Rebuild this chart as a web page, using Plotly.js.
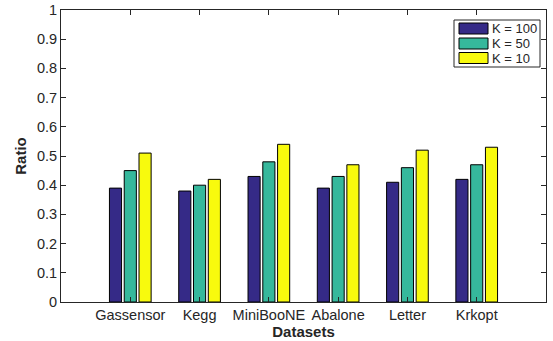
<!DOCTYPE html>
<html>
<head>
<meta charset="utf-8">
<script src="https://cdn.plot.ly/plotly-3.0.1.min.js"></script>
<style>html,body{margin:0;padding:0;background:#fff;}#chart{width:553px;height:341px;}</style>
</head>
<body>
<div id="chart"></div>
<script>
const categories = ["Gassensor", "Kegg", "MiniBooNE", "Abalone", "Letter", "Krkopt"];
const k100 = [0.39, 0.38, 0.43, 0.39, 0.41, 0.42];
const k50 = [0.45, 0.40, 0.48, 0.43, 0.46, 0.47];
const k10 = [0.51, 0.42, 0.54, 0.47, 0.52, 0.53];
const seriesNames = ["K = 100", "K = 50", "K = 10"];
const yTicks = [0, 0.1, 0.2, 0.3, 0.4, 0.5, 0.6, 0.7, 0.8, 0.9, 1];
const yTickText = ["0", "0.1", "0.2", "0.3", "0.4", "0.5", "0.6", "0.7", "0.8", "0.9", "1"];

const colors = ["#352a87", "#36b89c", "#f8fa0d"];
const idx = categories.map((c, i) => i);
const data = [k100, k50, k10].map((vals, s) => ({
  type: "bar",
  x: idx,
  y: vals,
  name: seriesNames[s],
  marker: {color: colors[s], line: {color: "#000", width: 1}},
  hoverinfo: "skip"
}));

// custom legend (pixel geometry converted to paper coordinates)
const L = 61, R = 546, T = 10, B = 302;
const px = v => (v - L) / (R - L);
const py = v => (B - v) / (B - T);
const shapes = [{
  type: "rect", xref: "paper", yref: "paper",
  x0: px(454), x1: px(540), y0: py(67), y1: py(20),
  line: {color: "#262626", width: 1}, fillcolor: "#fff", layer: "above"
}];
const annotations = [];
const rowTop = [23, 38, 52.5];
seriesNames.forEach((n, s) => {
  shapes.push({
    type: "rect", xref: "paper", yref: "paper",
    x0: px(459), x1: px(488), y0: py(rowTop[s] + 11), y1: py(rowTop[s]),
    line: {color: "#000", width: 1}, fillcolor: colors[s], layer: "above"
  });
  annotations.push({
    xref: "paper", yref: "paper", x: px(490), y: py(rowTop[s] + 5.5),
    xanchor: "left", yanchor: "middle", showarrow: false, text: n,
    font: {family: "Liberation Sans, Arial, Helvetica, sans-serif", size: 13, color: "#262626"}
  });
});

const font = {family: "Liberation Sans, Arial, Helvetica, sans-serif", color: "#262626"};
const layout = {
  width: 553, height: 341,
  margin: {l: 61, r: 7, t: 10, b: 39},
  paper_bgcolor: "#fff", plot_bgcolor: "#fff",
  barmode: "group",
  bargap: 0.36,
  bargroupgap: 0.18,
  font: Object.assign({size: 14}, font),
  showlegend: false,
  shapes: shapes,
  annotations: annotations,
  xaxis: {
    range: [-1, 6],
    tickvals: idx, ticktext: categories,
    ticks: "inside", ticklen: 5, tickcolor: "#262626",
    showline: true, linecolor: "#262626", linewidth: 1, mirror: "ticks",
    showgrid: false, zeroline: false,
    tickfont: Object.assign({size: 14.5}, font),
    title: {text: "<b>Datasets</b>", font: Object.assign({size: 15}, font), standoff: 0}
  },
  yaxis: {
    range: [0, 1],
    tickvals: yTicks, ticktext: yTickText,
    ticks: "inside", ticklen: 5, tickcolor: "#262626",
    showline: true, linecolor: "#262626", linewidth: 1, mirror: "ticks",
    showgrid: false, zeroline: false,
    tickfont: Object.assign({size: 14.5}, font),
    title: {text: "<b>Ratio</b>", font: Object.assign({size: 15}, font), standoff: 6}
  }
};
Plotly.newPlot("chart", data, layout, {displayModeBar: false, staticPlot: true});
</script>
</body>
</html>
